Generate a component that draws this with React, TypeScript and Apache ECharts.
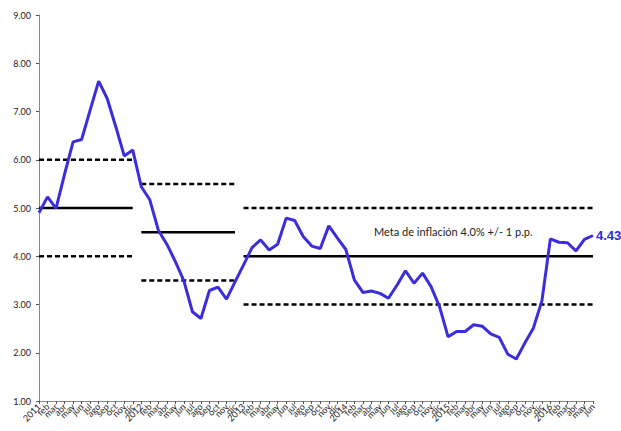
import React, { useEffect, useRef } from "react";
import * as echarts from "echarts";

const monthNames = ["feb", "mar", "abr", "may", "jun", "jul", "ago", "sep", "oct", "nov", "dic"];
const years = ["2011", "2012", "2013", "2014", "2015", "2016"];
const categories: string[] = [];
years.forEach((y) => {
  categories.push(y);
  monthNames.forEach((m) => categories.push(m));
});
const nMonths = 66;
const labels = categories.slice(0, nMonths);

const inflation2011 = [4.9, 5.23, 4.99, 5.7, 6.37, 6.42, 7.03, 7.63, 7.27, 6.69, 6.08, 6.2];
const inflation2012 = [5.44, 5.17, 4.54, 4.25, 3.89, 3.49, 2.85, 2.71, 3.29, 3.36, 3.11, 3.47];
const inflation2013 = [3.82, 4.18, 4.34, 4.13, 4.25, 4.79, 4.74, 4.41, 4.21, 4.16, 4.63, 4.38];
const inflation2014 = [4.14, 3.51, 3.25, 3.28, 3.23, 3.13, 3.4, 3.7, 3.44, 3.65, 3.37, 2.95];
const inflation2015 = [2.33, 2.44, 2.44, 2.58, 2.55, 2.39, 2.32, 1.97, 1.87, 2.2, 2.51, 3.07];
const inflation2016 = [4.36, 4.29, 4.28, 4.11, 4.35, 4.43];
const inflation = [
  ...inflation2011,
  ...inflation2012,
  ...inflation2013,
  ...inflation2014,
  ...inflation2015,
  ...inflation2016,
];

const targetStarts = [0, 12, 24];
const targetEnds = [11, 23, 65];
const targetCenters = [5, 4.5, 4];
const targetBand = 1;

const yTicks = [1, 2, 3, 4, 5, 6, 7, 8, 9];
const annotation = "Meta de inflación 4.0% +/- 1 p.p.";

const FONT = "Lato, 'Noto Sans', sans-serif";

export default function App() {
  const ref = useRef<HTMLDivElement>(null);
  useEffect(() => {
    if (!ref.current) return;
    const chart = echarts.init(ref.current, undefined, { renderer: "svg" });

    const targetSeries: any[] = [];
    targetStarts.forEach((s, i) => {
      const e = targetEnds[i];
      const c = targetCenters[i];
      const mk = (v: number) => labels.map((_, k) => (k >= s && k <= e ? v : null));
      [
        { v: c, type: "solid" },
        { v: c + targetBand, type: [5, 3] },
        { v: c - targetBand, type: [5, 3] },
      ].forEach((d) => {
        targetSeries.push({
          type: "line",
          data: mk(d.v),
          symbol: "none",
          silent: true,
          z: 1,
          lineStyle: { color: "#000", width: 2.5, type: d.type as any, cap: "butt" },
        });
      });
    });

    chart.setOption({
      animation: false,
      grid: { left: 39, right: 28, top: 15, bottom: 30, containLabel: false },
      xAxis: {
        type: "category",
        data: labels,
        boundaryGap: false,
        axisLine: { lineStyle: { color: "#888", width: 1 } },
        axisTick: { show: true, interval: 0, lineStyle: { color: "#555" }, length: 3 },
        axisLabel: {
          interval: 0,
          rotate: 45,
          fontSize: 9,
          fontFamily: FONT,
          color: "#222",
          margin: 4,
        },
        splitLine: { show: false },
      },
      yAxis: {
        type: "value",
        min: yTicks[0],
        max: yTicks[yTicks.length - 1],
        interval: 1,
        axisLine: { show: true, lineStyle: { color: "#888", width: 1 } },
        axisTick: { show: true, length: 3, lineStyle: { color: "#555" } },
        axisLabel: {
          formatter: (v: number) => v.toFixed(2),
          fontSize: 9,
          fontFamily: FONT,
          color: "#222",
          margin: 8,
        },
        splitLine: { show: false },
      },
      series: [
        ...targetSeries,
        {
          type: "line",
          data: inflation,
          symbol: "none",
          z: 5,
          lineStyle: { color: "#3b2ddb", width: 3 },
          endLabel: {
            show: true,
            formatter: (p: any) => Number(p.value).toFixed(2),
            color: "#2a2ae8",
            fontWeight: "bold",
            fontSize: 13,
            fontFamily: "'Liberation Sans', Arial, sans-serif",
            distance: 3,
          },
        },
      ],
      graphic: [
        {
          type: "text",
          left: 374,
          top: 226,
          style: {
            text: annotation,
            fontSize: 11,
            fontFamily: FONT,
            fill: "#222",
          },
        },
      ],
    });
    return () => chart.dispose();
  }, []);
  return <div ref={ref} style={{ width: 621, height: 431, position: "absolute", left: 0, top: 0 }} />;
}
